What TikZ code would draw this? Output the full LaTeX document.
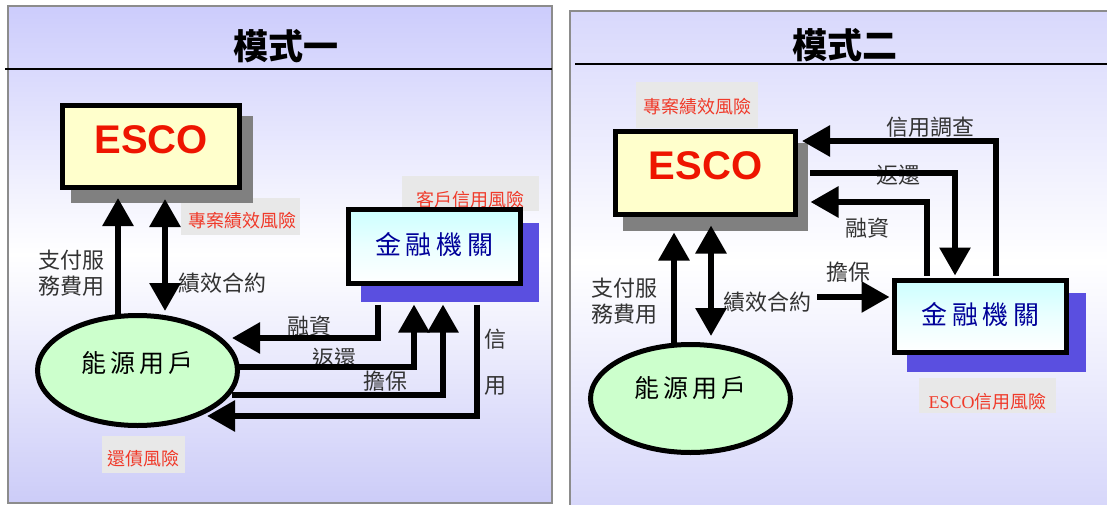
\documentclass[tikz,border=0pt]{standalone}
\usepackage{fontspec}
\setmainfont{Liberation Sans}
\newfontfamily\cjk{Noto Sans CJK TC}
\newfontfamily\serifesco{Liberation Serif}
\usetikzlibrary{arrows.meta,calc,shapes.geometric}
\definecolor{panelL}{HTML}{CCCCFC}
\definecolor{panelLb}{HTML}{CCCCF8}
\definecolor{panelR}{HTML}{D8D8FC}
\definecolor{panelRb}{HTML}{D6D6FA}
\definecolor{frame}{HTML}{8C8C8C}
\definecolor{escofill}{HTML}{FFFFCC}
\definecolor{escored}{HTML}{EE1500}
\definecolor{shadowgray}{HTML}{808080}
\definecolor{bankblue}{HTML}{5A4FE0}
\definecolor{banktext}{HTML}{000099}
\definecolor{bankcyan}{HTML}{CCFFFF}
\definecolor{userfill}{HTML}{CCFFCC}
\definecolor{textgray}{HTML}{333333}
\definecolor{riskred}{HTML}{F03A2A}
\definecolor{riskbg}{HTML}{E8E8E8}
\begin{document}
\begin{tikzpicture}[x=1pt,y=-1pt,
  escobox/.style={draw=black,line width=5pt,fill=escofill,rectangle,inner sep=0pt,
    minimum width=177pt,minimum height=82pt},
  escotxt/.style={text=escored,font=\fontsize{40}{42}\selectfont\bfseries,inner sep=0pt},
  bankbox/.style={draw=black,line width=5pt,top color=bankcyan,bottom color=white,
    middle color=white!60!bankcyan,rectangle,inner sep=0pt,minimum width=172pt,minimum height=74pt},
  banktxt/.style={text=banktext,font=\cjk\fontsize{26}{28}\selectfont,inner sep=0pt},
  userell/.style={draw=black,line width=5pt,fill=userfill,ellipse,inner sep=0pt,
    minimum width=200pt,minimum height=110pt},
  usertxt/.style={text=black,font=\cjk\fontsize{25}{27}\selectfont,inner sep=0pt},
  lbl/.style={text=textgray,font=\cjk\fontsize{22}{26}\selectfont,inner sep=0pt,align=left},
  riskbox/.style={fill=riskbg,inner sep=0pt},
  risktxt/.style={text=riskred,font=\cjk\fontsize{18}{20}\selectfont,inner sep=0pt},
  titletxt/.style={text=black,font=\cjk\bfseries\fontsize{35}{37}\selectfont,inner sep=0pt},
  conn/.style={line width=6pt,draw=black},
  arr/.style={conn,-{Triangle[width=30pt,length=28pt]}},
  darr/.style={conn,{Triangle[width=30pt,length=28pt]}-{Triangle[width=30pt,length=28pt]}}
]
\useasboundingbox (0,0) rectangle (1107,505);
% ---------- panels ----------
\shade[top color=panelL,bottom color=panelLb,middle color=white] (8,6) rectangle (552,503);
\draw[frame,line width=2pt] (8,6) rectangle (552,503);
\shade[top color=panelR,bottom color=panelRb,middle color=white] (570,11) rectangle (1112,512);
\draw[frame,line width=2pt] (1112,11) -- (570,11) -- (570,512);
\draw[black,line width=1.6pt] (5,69) -- (552,69);
\draw[black,line width=1.6pt] (575,64) -- (1107,64);
\node[titletxt] (title1) at (286,46) {模式一};
\node[titletxt] (title2) at (845,45) {模式二};

% ================= LEFT PANEL =================
\node[riskbox,minimum width=119pt,minimum height=37pt] (rb1) at (240.5,216.5) {};
\node[risktxt] (rt1) at (242,221) {專案績效風險};
\node[riskbox,minimum width=137pt,minimum height=35pt] (rb2) at (470.5,193.5) {};
\node[risktxt] (rt2) at (470,200) {客戶信用風險};
\node[riskbox,minimum width=83pt,minimum height=37pt] (rb3) at (143.5,454.5) {};
\node[risktxt] (rt3) at (143.5,459) {還債風險};

\fill[shadowgray] (71,116) rectangle (253,203);
\node[escobox] (esco1) at (151,146.5) {};
\node[escotxt] (escot1) at (151,140) {ESCO};

\fill[bankblue] (361,223) rectangle (539,302);
\node[bankbox] (bank1) at (434.5,246.5) {};
\node[banktxt] (bankt1) at (434.5,245) {金\hspace{5pt}融\hspace{5pt}機\hspace{5pt}關};

\node[userell] (user1) at (137.5,370.5) {};
\node[usertxt] (usert1) at (137.5,363) {能\hspace{4pt}源\hspace{4pt}用\hspace{4pt}戶};

\node[lbl,anchor=west] (pay1) at (38,273) {支付服\\務費用};
\node[lbl,anchor=west] (perf1) at (178,283) {績效合約};
\node[lbl] (fin1) at (309,326) {融資};
\node[lbl] (ret1) at (334,358) {返還};
\node[lbl] (guar1) at (385,381) {擔保};
\node[lbl] (cr1a) at (495,339) {信};
\node[lbl] (cr1b) at (495,386) {用};

% connectors left
\draw[arr] ($(user1.north)+(-19.5,3)$) -- ($(esco1.south)+(-33,8)$);
\draw[darr] ($(esco1.south)+(14,9)$) -- ($(user1.north)+(27.5,-2)$);
\draw[arr] ($(bank1.south)+(-56.5,18.5)$) |- ($(user1.east)+(-8,-32.5)$);
\draw[arr] ($(user1.east)+(-1,-3.5)$) -| ($(bank1.south)+(-20.5,18.5)$);
\draw[arr] ($(user1.east)+(-8,24.5)$) -| ($(bank1.south)+(8.5,18.5)$);
\draw[arr] ($(bank1.south)+(42.5,18.5)$) |- ($(user1.east)+(-33,45.5)$);

% ================= RIGHT PANEL =================
\node[riskbox,minimum width=122pt,minimum height=46pt] (rb4) at (697,105) {};
\node[risktxt] (rt4) at (697,107) {專案績效風險};
\node[riskbox,minimum width=137pt,minimum height=35pt] (rb5) at (987.5,395.5) {};
\node[risktxt] (rt5) at (987.5,402) {{\serifesco ESCO}信用風險};

\fill[shadowgray] (623,143) rectangle (808,231);
\node[escobox,minimum width=180pt,minimum height=83pt] (esco2) at (705.5,173) {};
\node[escotxt] (escot2) at (705.5,166) {ESCO};

\fill[bankblue] (907,293) rectangle (1086,372);
\node[bankbox,minimum height=72pt] (bank2) at (980.5,316.5) {};
\node[banktxt] (bankt2) at (980.5,315) {金\hspace{5pt}融\hspace{5pt}機\hspace{5pt}關};

\node[userell,minimum height=108pt] (user2) at (690.5,398.5) {};
\node[usertxt] (usert2) at (690.5,388) {能\hspace{4pt}源\hspace{4pt}用\hspace{4pt}戶};

\node[lbl,anchor=west] (pay2) at (591,301) {支付服\\務費用};
\node[lbl,anchor=west] (perf2) at (723,302) {績效合約};
\node[lbl] (guar2) at (848,272) {擔保};
\node[lbl] (inv2) at (930,127) {信用調查};
\node[lbl] (ret2) at (898,175) {返還};
\node[lbl] (fin2) at (867,228) {融資};

% connectors right
\coordinate (gstart) at (817,297);
\draw[arr] ($(user2.north)+(-16.5,2)$) -- ($(esco2.south)+(-31.5,15.5)$);
\draw[darr] ($(esco2.south)+(5.5,8.5)$) -- ($(user2.north)+(20.5,-6)$);
\draw[arr] (gstart) -- ($(bank2.west)+(-2.5,-19.5)$);
\draw[arr] ($(bank2.north)+(15.5,-2.5)$) |- ($(esco2.east)+(4,-32)$);
\draw[arr] ($(esco2.east)+(12,0)$) -| ($(bank2.north)+(-25.5,-2.5)$);
\draw[arr] ($(bank2.north)+(-53.5,-2.5)$) |- ($(esco2.east)+(12.5,29)$);
\end{tikzpicture}
\end{document}
